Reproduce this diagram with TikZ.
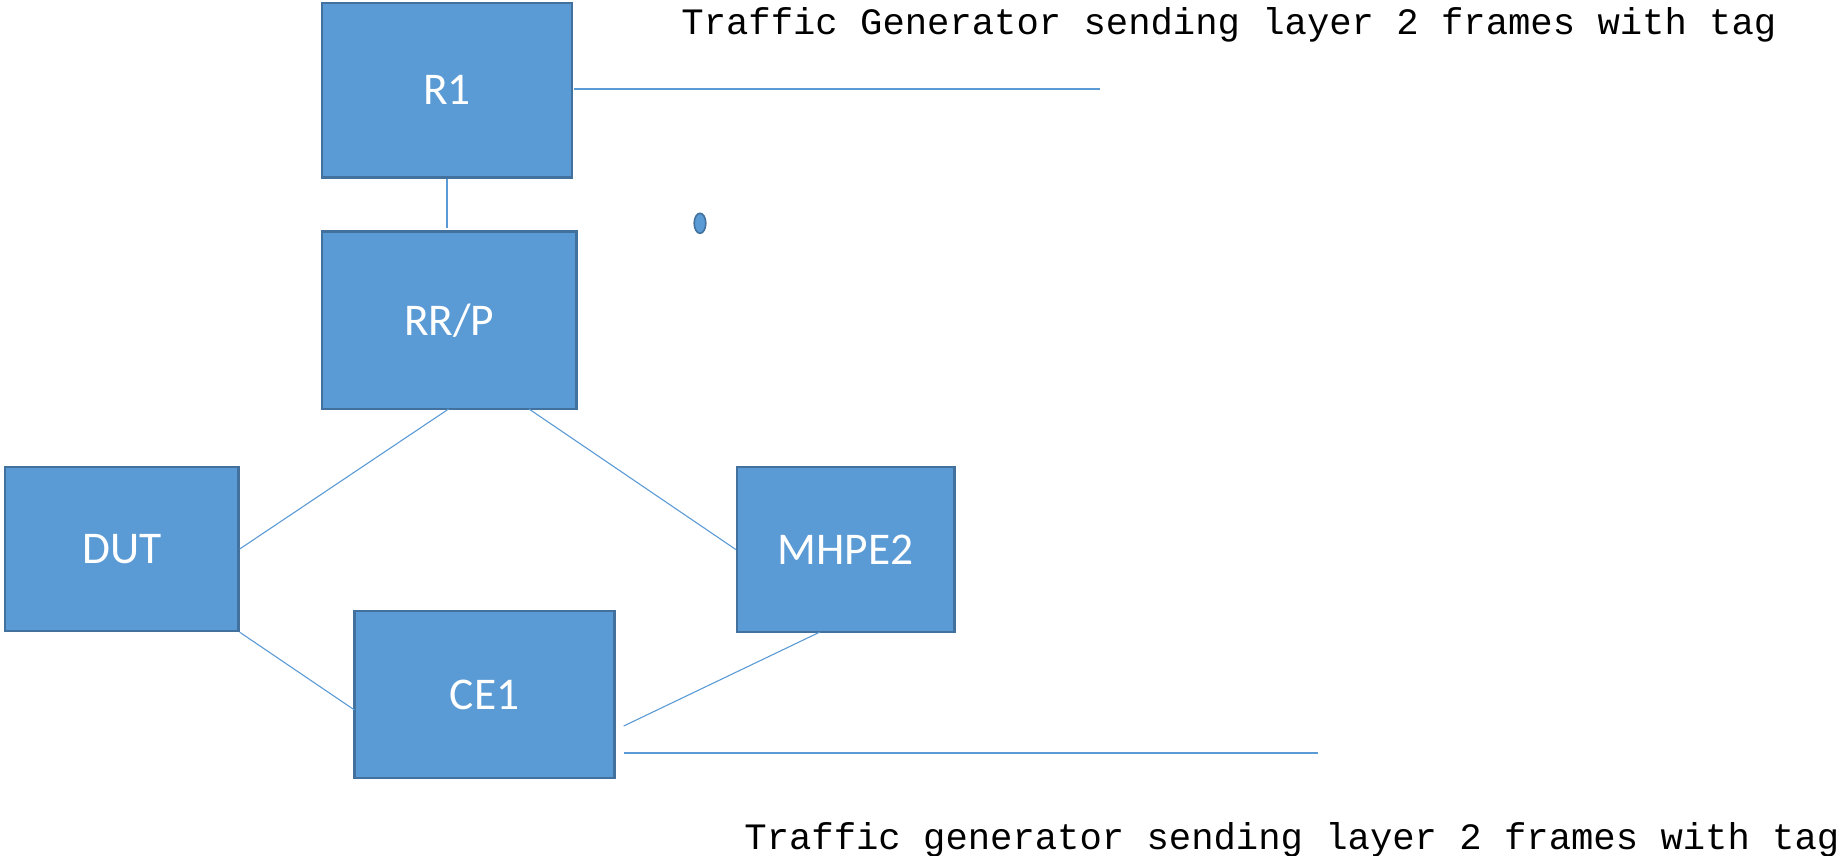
\documentclass[tikz,border=0pt]{standalone}
\usepackage{fontspec}
\usetikzlibrary{shapes.geometric}
\setmainfont{Carlito}
\newfontfamily\monofont{Liberation Mono}
\definecolor{boxfill}{HTML}{5B9BD5}
\definecolor{boxline}{HTML}{41719C}
\definecolor{wire}{HTML}{5B9BD5}
\tikzset{
  dev/.style={rectangle, fill=boxfill, draw=boxline, line width=1.2pt, text=white,
    font=\fontsize{22.7pt}{26pt}\selectfont, inner sep=0pt, anchor=center},
  wireline/.style={draw=wire, line width=0.55pt},
  caption/.style={font=\monofont\fontsize{18.62pt}{22pt}\selectfont, inner sep=0pt, anchor=base west, text=black}
}
\begin{document}
\begin{tikzpicture}[x=0.5pt,y=-0.5pt]
\useasboundingbox (0,0) rectangle (1841,856);
% devices
\node[dev, minimum width=125pt, minimum height=87.25pt] (R1) at (447,90.25) {R1};
\node[dev, minimum width=127.25pt, minimum height=88.75pt] (RRP) at (449.25,320.25) {RR/P};
\node[dev, minimum width=116.75pt, minimum height=82pt] (DUT) at (121.75,549) {DUT};
\node[dev, minimum width=108.75pt, minimum height=82.5pt] (MHPE2) at (845.75,549.5) {MHPE2};
\node[dev, minimum width=130pt, minimum height=83.5pt] (CE1) at (484.5,694.5) {CE1};
% ellipse
\node[ellipse, fill=boxfill, draw=boxline, line width=0.8pt, minimum width=5.8pt, minimum height=10pt, inner sep=0pt] (dot) at (700,223.3) {};
% free ends
\coordinate (r1stub) at (447,228);
\coordinate (r1tg) at (1100,89);
\coordinate (r1tgs) at (574,89);
\coordinate (ce1a) at (354.5,710);
\coordinate (ce1b) at (623.7,726);
\coordinate (ce1c) at (623.7,753);
\coordinate (ce1tg) at (1318,753);
\coordinate (mhpeS) at (820,632);
\coordinate (rrpA) at (448.6,409);
\coordinate (rrpB) at (529,409);
% connectors
\draw[wireline] (R1.south) -- (r1stub);
\draw[wireline] (r1tgs) -- (r1tg);
\draw[wireline] (rrpA) -- (DUT.east);
\draw[wireline] (rrpB) -- (MHPE2.west);
\draw[wireline] (DUT.south east) -- (ce1a);
\draw[wireline] (mhpeS) -- (ce1b);
\draw[wireline] (ce1c) -- (ce1tg);
% captions
\node[caption] (top) at (681,34.3) {Traffic Generator sending layer 2 frames with tag};
\node[caption] (bot) at (744,849) {Traffic generator sending layer 2 frames with tag};
\end{tikzpicture}
\end{document}
